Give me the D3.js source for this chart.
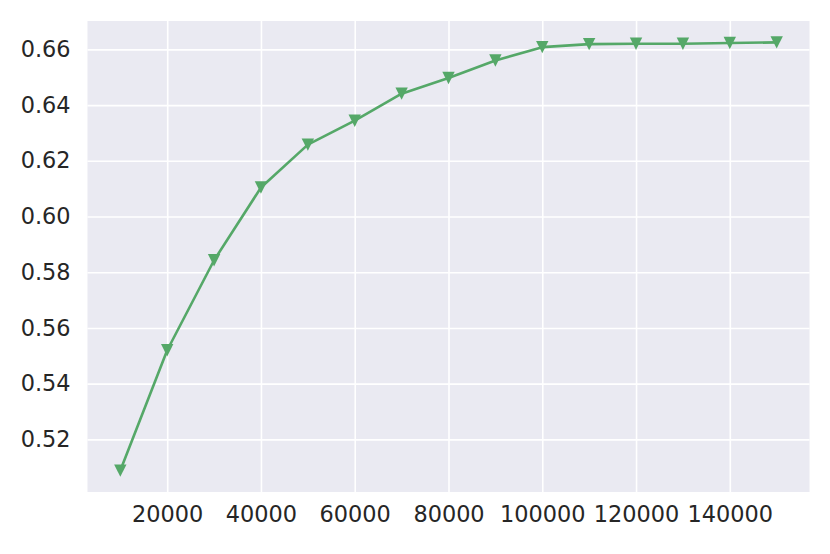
<!DOCTYPE html>
<html>
<head>
<meta charset="utf-8">
<script src="https://cdn.jsdelivr.net/npm/d3@7"></script>
<style>
  html, body { margin: 0; padding: 0; background: #ffffff; }
  svg { display: block; }
  text { font-family: "DejaVu Sans", sans-serif; }
</style>
</head>
<body>
<svg id="chart" width="830" height="554"></svg>
<script>
const xValues = [10000, 20000, 30000, 40000, 50000, 60000, 70000, 80000, 90000, 100000, 110000, 120000, 130000, 140000, 150000];
const yValues = [0.5088, 0.5520, 0.5843, 0.6104, 0.6258, 0.6344, 0.6441, 0.6497, 0.6560, 0.6608, 0.6619, 0.6620, 0.6620, 0.6623, 0.6625];
const xTicks = [20000, 40000, 60000, 80000, 100000, 120000, 140000];
const yTicks = [0.52, 0.54, 0.56, 0.58, 0.60, 0.62, 0.64, 0.66];

const W = 830, H = 554;
const plot = { left: 87.5, right: 809.5, top: 21, bottom: 492 };
const lineColor = "#55A868";
const bg = "#EAEAF2";
const textColor = "#262626";

function padded(ext) {
  const m = (ext[1] - ext[0]) * 0.05;
  return [ext[0] - m, ext[1] + m];
}

const x = d3.scaleLinear().domain(padded(d3.extent(xValues))).range([plot.left, plot.right]);
const y = d3.scaleLinear().domain(padded(d3.extent(yValues))).range([plot.bottom, plot.top]);

const svg = d3.select("#chart");

svg.append("rect")
  .attr("x", plot.left).attr("y", plot.top)
  .attr("width", plot.right - plot.left).attr("height", plot.bottom - plot.top)
  .attr("fill", bg);

// grid + ticks via axes
const xAxis = d3.axisBottom(x).tickValues(xTicks).tickFormat(d3.format("d"))
  .tickSize(-(plot.bottom - plot.top)).tickPadding(14);
const gx = svg.append("g").attr("transform", `translate(0,${plot.bottom})`).call(xAxis);
gx.select(".domain").remove();
gx.selectAll(".tick line").attr("stroke", "#ffffff").attr("stroke-width", 1.6);
gx.selectAll(".tick text").attr("fill", textColor).attr("font-size", 22.4)
  .attr("font-family", "DejaVu Sans, sans-serif");

const yAxis = d3.axisLeft(y).tickValues(yTicks).tickFormat(d3.format(".2f"))
  .tickSize(-(plot.right - plot.left)).tickPadding(17);
const gy = svg.append("g").attr("transform", `translate(${plot.left},0)`).call(yAxis);
gy.select(".domain").remove();
gy.selectAll(".tick line").attr("stroke", "#ffffff").attr("stroke-width", 1.6);
gy.selectAll(".tick text").attr("fill", textColor).attr("font-size", 22.4)
  .attr("font-family", "DejaVu Sans, sans-serif");

const data = xValues.map((v, i) => ({ x: v, y: yValues[i] }));

svg.append("path")
  .datum(data)
  .attr("fill", "none")
  .attr("stroke", lineColor)
  .attr("stroke-width", 2.6)
  .attr("stroke-linejoin", "round")
  .attr("stroke-linecap", "round")
  .attr("d", d3.line().x(d => x(d.x)).y(d => y(d.y)));

const s = 6.2;
svg.append("g").selectAll("path.m")
  .data(data)
  .join("path")
  .attr("class", "m")
  .attr("fill", lineColor)
  .attr("d", d => {
    const cx = x(d.x), cy = y(d.y);
    return `M${cx - s},${cy - s}L${cx + s},${cy - s}L${cx},${cy + s}Z`;
  });
</script>
</body>
</html>
